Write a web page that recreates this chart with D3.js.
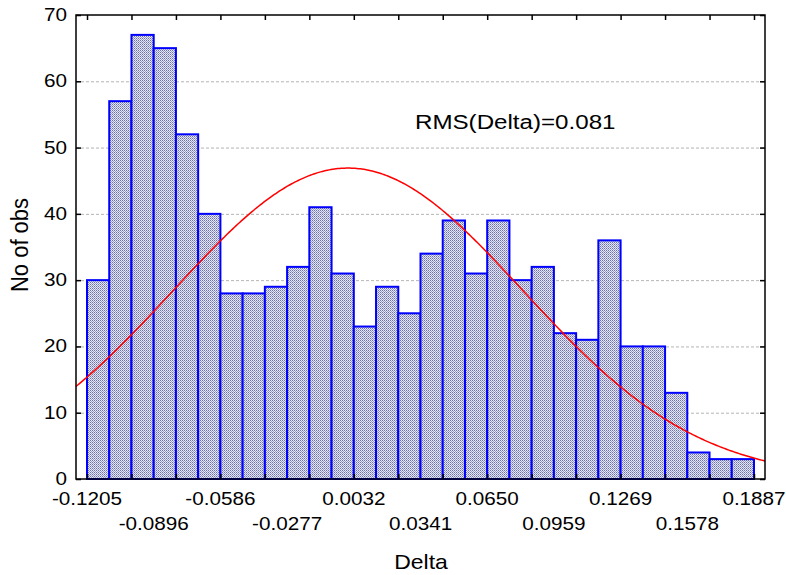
<!DOCTYPE html>
<html><head><meta charset="utf-8">
<script src="https://cdn.jsdelivr.net/npm/d3@7"></script>
<style>body{margin:0;background:#fff}svg{display:block}text{font-family:"Liberation Sans",Arial,sans-serif;fill:#000}</style>
</head><body><svg id="c" width="786" height="575"></svg>
<script>
const binStart = -0.1205;
const binWidth = 0.010307;
const counts = [30,57,67,65,52,40,28,28,29,32,41,31,23,29,25,34,39,31,39,30,32,22,21,36,20,20,13,4,3,3];
const xTickLabels = ["-0.1205","-0.0896","-0.0586","-0.0277","0.0032","0.0341","0.0650","0.0959","0.1269","0.1578","0.1887"];
const yTicks = [0,10,20,30,40,50,60,70];
const fitMean = 0.0005, fitSigma = 0.081;
const rmsText = "RMS(Delta)=0.081";

const SX = 1.15; // horizontal text stretch
const svg = d3.select("#c");
const L=76, R=765, T=15, B=479;
const xDomain = [binStart - binWidth*0.495, binStart + binWidth*(counts.length+0.495)];
const x = d3.scaleLinear().domain(xDomain).range([L,R]);
const y = d3.scaleLinear().domain([0,70]).range([B,T]);

const defs = svg.append("defs");
const pat = defs.append("pattern").attr("id","dots").attr("patternUnits","userSpaceOnUse").attr("width",2).attr("height",2);
pat.append("rect").attr("width",2).attr("height",2).attr("fill","#e4e6f2");
pat.append("rect").attr("x",0).attr("y",0).attr("width",1).attr("height",1).attr("fill","#6d72a8");
pat.append("rect").attr("x",1).attr("y",1).attr("width",1).attr("height",1).attr("fill","#9a9ec8");

// grid
svg.append("g").selectAll("line").data(yTicks.filter(d=>d>0&&d<70)).join("line")
  .attr("x1",L).attr("x2",R).attr("y1",d=>y(d)+0.5).attr("y2",d=>y(d)+0.5)
  .attr("stroke","#b4b4b4").attr("stroke-width",1).attr("stroke-dasharray","3,2");

// bars
svg.append("g").selectAll("rect").data(counts).join("rect")
  .attr("x",(d,i)=>x(binStart+i*binWidth))
  .attr("width",(d,i)=>x(binStart+(i+1)*binWidth)-x(binStart+i*binWidth))
  .attr("y",d=>y(d)).attr("height",d=>B-y(d))
  .attr("fill","url(#dots)").attr("stroke","#0000ff").attr("stroke-width",2);

// normal fit curve
const N = d3.sum(counts);
const pts = d3.range(0,401).map(i=>{
  const v = xDomain[0] + (xDomain[1]-xDomain[0])*i/400;
  const f = N*binWidth/(fitSigma*Math.sqrt(2*Math.PI))*Math.exp(-((v-fitMean)**2)/(2*fitSigma*fitSigma));
  return [x(v), y(f)];
});
svg.append("path").attr("d",d3.line()(pts)).attr("fill","none").attr("stroke","#ff0000").attr("stroke-width",1.5);

// frame
svg.append("rect").attr("x",L).attr("y",T).attr("width",R-L).attr("height",B-T)
  .attr("fill","none").attr("stroke","#000").attr("stroke-width",1.5);

// ticks
const yl = svg.append("g").attr("transform",`translate(${L},0)`)
  .call(d3.axisLeft(y).tickValues(yTicks).tickSize(-5).tickFormat(""));
yl.select(".domain").remove();
svg.append("g").attr("transform",`translate(${R},0)`)
  .call(d3.axisRight(y).tickValues(yTicks).tickSize(-5).tickFormat(""))
  .select(".domain").remove();
const tickVals = d3.range(0,counts.length+1,2).map(i=>binStart+i*binWidth);
svg.append("g").attr("transform",`translate(0,${B})`)
  .call(d3.axisBottom(x).tickValues(tickVals).tickSize(-5).tickFormat(""))
  .select(".domain").remove();
svg.append("g").attr("transform",`translate(0,${T})`)
  .call(d3.axisTop(x).tickValues(tickVals).tickSize(-5).tickFormat(""))
  .select(".domain").remove();
svg.selectAll(".tick line").attr("stroke","#000").attr("stroke-width",1.5);

// y tick labels
svg.append("g").selectAll("text").data(yTicks).join("text")
  .attr("transform",d=>`translate(67,${y(d)+6}) scale(${SX},1)`)
  .attr("text-anchor","end").attr("font-size",18).text(d=>d);

// x labels staggered every 3 bins
svg.append("g").selectAll("text").data(xTickLabels).join("text")
  .attr("transform",(d,i)=>`translate(${x(binStart+i*3*binWidth)},${i%2===0?505:530}) scale(${SX},1)`)
  .attr("text-anchor","middle").attr("font-size",18).text(d=>d);

// titles
svg.append("text").attr("transform",`translate(421,569) scale(${SX},1)`).attr("text-anchor","middle").attr("font-size",20).text("Delta");
svg.append("text").attr("transform",`translate(28,245) rotate(-90) scale(1,1.12)`).attr("text-anchor","middle").attr("font-size",22).text("No of obs");
svg.append("text").attr("transform",`translate(415,129) scale(${SX},1)`).attr("font-size",21).text(rmsText);
</script></body></html>
